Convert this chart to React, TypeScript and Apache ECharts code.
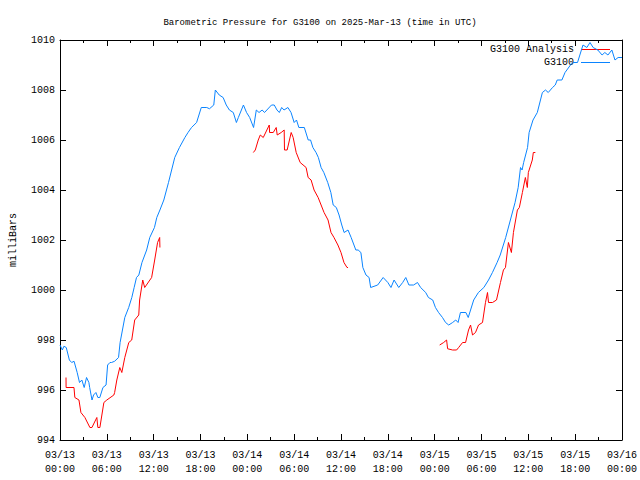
import React, { useEffect, useRef } from "react";
import * as echarts from "echarts";

// hours since 2025-03-13 00:00 UTC, pressure in mb
const g3100: [number, number][] = [
  [0, 997.8], [0.3, 997.6], [0.5, 997.75], [0.8, 997.7], [1.2, 997.2], [1.5, 997.1], [1.8, 997.15],
  [2.2, 996.7], [2.5, 996.3], [2.8, 996.4], [3.1, 996.1], [3.4, 996.5], [3.7, 996.3], [3.8, 996.1],
  [4.1, 995.6], [4.3, 995.8], [4.6, 995.9], [4.85, 995.7], [5.1, 995.7], [5.5, 996.1],
  [5.9, 996.2], [6.1, 997.0], [6.4, 997.1], [6.6, 997.1], [7.0, 997.15], [7.5, 997.3],
  [7.7, 997.9], [8.0, 998.4], [8.3, 998.9], [8.8, 999.3], [9.2, 999.7], [9.5, 1000.1], [9.8, 1000.5],
  [10.1, 1000.6], [10.5, 1001.1], [11.1, 1001.6], [11.5, 1002.1], [12.1, 1002.5], [12.4, 1002.9], [12.8, 1003.2],
  [13.3, 1003.6], [13.9, 1004.3], [14.3, 1004.8], [14.7, 1005.3], [15.3, 1005.7],
  [16.0, 1006.1], [16.4, 1006.3], [16.85, 1006.5], [17.5, 1006.7], [18.1, 1007.3], [18.8, 1007.3],
  [19.15, 1007.25], [19.7, 1007.4], [19.9, 1008.0], [20.4, 1007.8], [20.9, 1007.7],
  [21.3, 1007.4], [21.7, 1007.2], [22.2, 1007.1], [22.6, 1006.7], [22.85, 1006.9],
  [23.5, 1007.4], [23.9, 1007.1], [24.3, 1006.9], [24.8, 1006.5], [25.15, 1007.2],
  [25.5, 1007.1], [25.9, 1007.2], [26.2, 1007.1], [27.1, 1007.4], [27.45, 1007.4], [27.8, 1007.2], [28.1, 1007.1],
  [28.4, 1007.3], [28.7, 1007.2], [29.2, 1007.3], [29.6, 1007.1], [30.0, 1006.7], [30.3, 1006.8], [30.6, 1006.5],
  [31.3, 1006.5], [31.8, 1006.0], [32.1, 1006.0], [32.4, 1005.7], [32.8, 1005.5], [33.1, 1005.3], [33.45, 1004.9],
  [33.8, 1004.7], [34.3, 1004.3], [34.7, 1003.9], [35.0, 1003.4], [35.4, 1003.3],
  [35.75, 1003.0], [36.1, 1002.6], [36.4, 1002.3], [36.9, 1002.4], [37.3, 1002.1], [37.9, 1001.6],
  [38.2, 1001.6], [38.55, 1001.5], [38.8, 1000.9], [39.2, 1000.6], [39.6, 1000.5], [39.8, 1000.1],
  [40.7, 1000.2], [41.4, 1000.5], [42.0, 1000.3], [42.4, 1000.1], [42.8, 1000.4],
  [43.4, 1000.1], [43.9, 1000.3], [44.3, 1000.5], [44.7, 1000.2], [45.3, 1000.2],
  [45.8, 1000.3], [46.2, 1000.1], [46.85, 999.9], [47.2, 999.7], [47.75, 999.6],
  [48.1, 999.3], [48.5, 999.1], [49.0, 998.9], [49.4, 998.7], [49.8, 998.6],
  [50.3, 998.7], [50.7, 998.8], [51.0, 998.7], [51.3, 999.1], [52.0, 999.1], [52.3, 998.9], [52.6, 999.2],
  [53.0, 999.6], [53.6, 999.9], [54.3, 1000.1], [54.9, 1000.4], [55.4, 1000.7],
  [56.0, 1001.1], [56.4, 1001.4], [57.1, 1002.1], [57.7, 1002.8], [58.3, 1003.5],
  [58.7, 1004.1], [59.0, 1004.9], [59.2, 1004.8], [59.4, 1005.1], [59.9, 1005.7],
  [60.1, 1006.3], [60.6, 1006.8], [61.15, 1007.1], [61.8, 1007.9], [62.2, 1008.0],
  [62.55, 1007.9], [63.1, 1008.1], [63.45, 1008.2], [63.7, 1008.4], [64.3, 1008.4],
  [64.7, 1008.7], [65.4, 1009.0], [65.7, 1009.1], [66.3, 1009.1], [66.6, 1009.4],
  [67.0, 1009.8], [67.5, 1009.7], [67.9, 1009.9], [68.3, 1009.7], [68.9, 1009.6],
  [69.45, 1009.4], [69.8, 1009.5], [70.2, 1009.4], [70.7, 1009.6], [71.1, 1009.2],
  [71.5, 1009.3], [72, 1009.3],
];

const analysisSeg1: [number, number][] = [
  [0.77, 996.5], [0.78, 996.1], [1.79, 996.1], [1.9, 995.7], [2.43, 995.6], [2.68, 995.1],
  [3.19, 994.9], [3.83, 994.5], [4.09, 994.5], [4.72, 994.9], [4.85, 994.5], [5.11, 994.5],
  [5.62, 995.5], [6.0, 995.6], [6.9, 995.8], [7.0, 995.9], [7.28, 996.4], [7.66, 996.9],
  [7.92, 996.7], [8.3, 997.3], [8.81, 997.9], [9.19, 998.0], [9.57, 998.8], [10.09, 999.0],
  [10.2, 999.6], [10.6, 1000.4], [10.85, 1000.1], [11.74, 1000.5], [12.13, 1001.2],
  [12.5, 1001.9], [12.77, 1002.1], [12.8, 1001.7],
];

const analysisSeg2: [number, number][] = [
  [24.77, 1005.5], [25.02, 1005.6], [25.4, 1006.0], [25.66, 1006.2], [26.04, 1006.1],
  [26.81, 1006.6], [26.85, 1006.3], [27.32, 1006.3], [27.7, 1006.5], [27.83, 1006.2],
  [28.34, 1006.3], [28.72, 1006.4], [28.76, 1005.6], [29.1, 1005.6], [29.62, 1006.3],
  [29.87, 1006.1], [30.26, 1005.5], [30.77, 1005.1], [31.53, 1004.9], [31.79, 1004.5],
  [32.17, 1004.4], [32.55, 1004.0], [33.07, 1003.7], [33.45, 1003.4], [33.83, 1003.1],
  [34.34, 1002.8], [34.72, 1002.3], [35.1, 1002.1], [35.6, 1001.8], [36.0, 1001.5],
  [36.38, 1001.1], [36.77, 1000.9], [36.9, 1000.9],
];

const analysisSeg3: [number, number][] = [
  [48.64, 997.8], [49.15, 997.9], [49.53, 998.0], [49.66, 997.65], [50.3, 997.6],
  [50.81, 997.6], [51.07, 997.7], [51.58, 997.9], [51.96, 997.9], [52.34, 998.4],
  [52.6, 998.6], [52.85, 998.2], [53.23, 998.3], [53.62, 998.6], [54.13, 998.7],
  [54.51, 999.5], [54.77, 999.9], [54.9, 999.5], [55.41, 999.5], [55.92, 999.6],
  [56.43, 1000.3], [56.81, 1000.8], [57.07, 1000.9], [57.45, 1001.9], [57.83, 1001.5],
  [58.09, 1002.3], [58.6, 1003.2], [58.85, 1003.3], [59.24, 1003.9], [59.62, 1004.5],
  [59.87, 1004.1], [60.0, 1004.7], [60.51, 1005.2], [60.64, 1005.5], [60.9, 1005.5],
];

const startDay = 13;
const monthLabel = "03";
const titleText = "Barometric Pressure for G3100 on 2025-Mar-13 (time in UTC)";
const yName = "milliBars";
const legendNames = ["G3100 Analysis", "G3100"];

const FONT = "Liberation Mono";
const BLUE = "#0a84ff";
const RED = "#ff0000";

function xLabel(h: number): string {
  const day = startDay + Math.floor(h / 24);
  const hr = Math.round(h % 24);
  return `${monthLabel}/${day}\n${String(hr).padStart(2, "0")}:00`;
}

export default function App() {
  const ref = useRef<HTMLDivElement>(null);
  useEffect(() => {
    document.body.style.margin = "0";
    const chart = echarts.init(ref.current!, null, { renderer: "svg" });
    const axisCommon = {
      axisLine: { show: true, onZero: false, lineStyle: { color: "#000", width: 1 } },
      splitLine: { show: false },
    };
    const mkRed = (d: [number, number][]) => ({
      name: legendNames[0],
      type: "line",
      data: d,
      showSymbol: false,
      symbol: "none",
      lineStyle: { color: RED, width: 1 },
      itemStyle: { color: RED },
      xAxisIndex: 0,
      yAxisIndex: 0,
    });
    chart.setOption({
      animation: false,
      textStyle: { fontFamily: FONT },
      title: {
        text: titleText,
        left: "center",
        top: 13,
        textStyle: { fontFamily: FONT, fontSize: 9, fontWeight: "normal", color: "#000" },
      },
      grid: { left: 58, right: 18, top: 40, bottom: 40 },
      xAxis: [
        {
          type: "value",
          min: 0,
          max: 72,
          interval: 6,
          position: "bottom",
          ...axisCommon,
          axisTick: { show: true, inside: true, length: 6, lineStyle: { color: "#000" } },
          minorTick: { show: true, splitNumber: 2, length: 3, lineStyle: { color: "#000" } },
          axisLabel: {
            formatter: (v: number) => xLabel(v),
            fontFamily: FONT,
            fontSize: 10,
            color: "#000",
            margin: 8,
            lineHeight: 14,
          },
        },
        {
          type: "value",
          min: 0,
          max: 72,
          interval: 6,
          position: "top",
          ...axisCommon,
          axisTick: { show: true, inside: true, length: 6, lineStyle: { color: "#000" } },
          minorTick: { show: true, splitNumber: 2, length: 3, lineStyle: { color: "#000" } },
          axisLabel: { show: false },
        },
      ],
      yAxis: [
        {
          type: "value",
          min: 994,
          max: 1010,
          interval: 2,
          position: "left",
          ...axisCommon,
          axisTick: { show: true, inside: true, length: 6, lineStyle: { color: "#000" } },
          axisLabel: {
            formatter: (v: number) => String(v),
            fontFamily: FONT,
            fontSize: 10,
            color: "#000",
            margin: 5,
          },
          name: yName,
          nameLocation: "middle",
          nameGap: 42,
          nameRotate: 90,
          nameTextStyle: { fontFamily: FONT, fontSize: 10, color: "#000" },
        },
        {
          type: "value",
          min: 994,
          max: 1010,
          interval: 2,
          position: "right",
          ...axisCommon,
          axisTick: { show: true, inside: true, length: 6, lineStyle: { color: "#000" } },
          axisLabel: { show: false },
        },
      ],
      series: [
        {
          name: legendNames[1],
          type: "line",
          data: g3100,
          showSymbol: false,
          symbol: "none",
          lineStyle: { color: BLUE, width: 1 },
          itemStyle: { color: BLUE },
          xAxisIndex: 0,
          yAxisIndex: 0,
        },
        mkRed(analysisSeg1),
        mkRed(analysisSeg2),
        mkRed(analysisSeg3),
      ],
      graphic: [
        {
          type: "text",
          right: 66,
          top: 44,
          style: { text: legendNames[0], fontFamily: FONT, fontSize: 10, fill: "#000" },
        },
        {
          type: "line",
          shape: { x1: 581, y1: 49.5, x2: 610, y2: 49.5 },
          style: { stroke: RED, lineWidth: 1 },
        },
        {
          type: "text",
          right: 66,
          top: 57,
          style: { text: legendNames[1], fontFamily: FONT, fontSize: 10, fill: "#000" },
        },
        {
          type: "line",
          shape: { x1: 581, y1: 62.5, x2: 610, y2: 62.5 },
          style: { stroke: BLUE, lineWidth: 1 },
        },
      ],
    });
    return () => chart.dispose();
  }, []);
  return <div ref={ref} style={{ width: 640, height: 480 }} />;
}
